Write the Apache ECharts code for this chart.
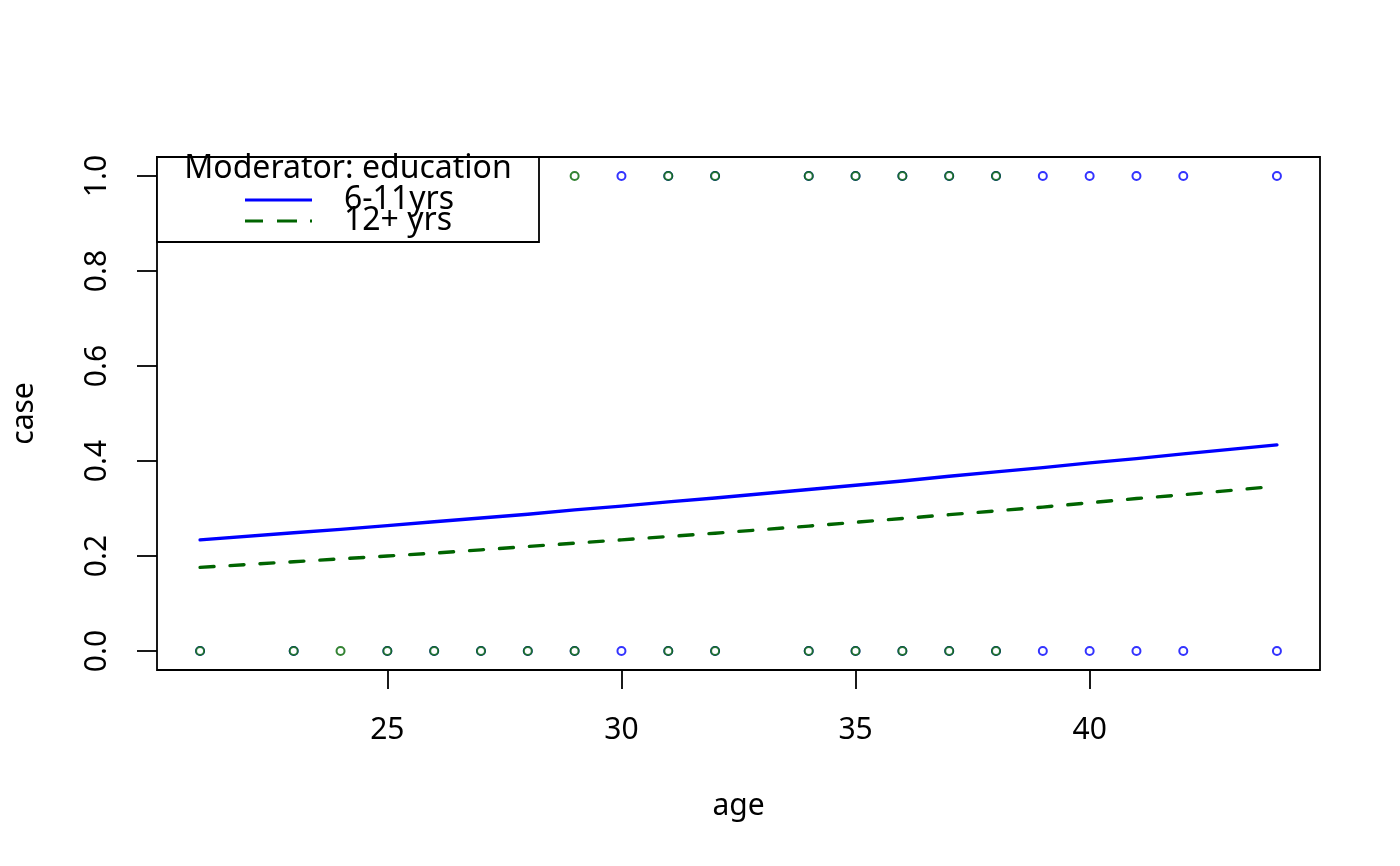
<!DOCTYPE html>
<html>
<head>
<meta charset="utf-8">
<script src="https://cdn.jsdelivr.net/npm/echarts@6/dist/echarts.min.js"></script>
<style>html,body{margin:0;padding:0;background:#fff;}#chart{width:1400px;height:866px;}</style>
</head>
<body>
<div id="chart"></div>
<script>
// Fitted probability lines
var lineAges = [21, 23, 24, 25, 26, 27, 28, 29, 30, 31, 32, 34, 35, 36, 37, 38, 39, 40, 41, 42, 44];
var fitLow = [0.234, 0.249, 0.256, 0.264, 0.272, 0.280, 0.288, 0.297, 0.305, 0.314, 0.322, 0.340, 0.349, 0.358, 0.368, 0.377, 0.386, 0.396, 0.405, 0.415, 0.434];
var fitHigh = [0.176, 0.188, 0.194, 0.200, 0.206, 0.213, 0.220, 0.227, 0.234, 0.241, 0.248, 0.263, 0.271, 0.279, 0.287, 0.295, 0.303, 0.312, 0.321, 0.329, 0.347];

// Observed cases (case = 0 / 1) by education group
var lowAgesCase0 = [21, 23, 25, 26, 27, 28, 29, 30, 31, 32, 34, 35, 36, 37, 38, 39, 40, 41, 42, 44];
var lowAgesCase1 = [30, 31, 32, 34, 35, 36, 37, 38, 39, 40, 41, 42, 44];
var highAgesCase0 = [21, 23, 24, 25, 26, 27, 28, 29, 31, 32, 34, 35, 36, 37, 38];
var highAgesCase1 = [29, 31, 32, 34, 35, 36, 37, 38];

var xTicks = [25, 30, 35, 40];
var yTicks = [0, 0.2, 0.4, 0.6, 0.8, 1.0];
var groupNames = ['6-11yrs', '12+ yrs'];
var legendTitle = 'Moderator: education';

var FONT = 'Noto Sans';
var BLUE = '#0000ff';
var GREEN = '#006400';

function pts(ages, c) { return ages.map(function (a) { return [a, c]; }); }
function pairs(xs, ys) { return xs.map(function (x, i) { return [x, ys[i]]; }); }

var chart = echarts.init(document.getElementById('chart'), null, { renderer: 'canvas' });

var scatterCommon = {
  type: 'scatter',
  symbol: 'emptyCircle',
  symbolSize: 8,
  silent: true
};

chart.setOption({
  animation: false,
  backgroundColor: '#ffffff',
  textStyle: { fontFamily: FONT },
  grid: {
    left: 157, top: 157, right: 80, bottom: 196,
    show: true, borderColor: '#000', borderWidth: 1.8, backgroundColor: 'transparent'
  },
  xAxis: {
    type: 'value', min: 20.08, max: 44.92,
    name: 'age', nameLocation: 'middle', nameGap: 121,
    nameTextStyle: { fontFamily: FONT, fontSize: 30, color: '#000' },
    axisLine: { show: false, onZero: false },
    axisTick: { show: true, inside: false, length: 19, customValues: xTicks, lineStyle: { color: '#000', width: 1.8 } },
    axisLabel: { customValues: xTicks, margin: 45, fontFamily: FONT, fontSize: 30, color: '#000' },
    splitLine: { show: false }
  },
  yAxis: {
    type: 'value', min: -0.04, max: 1.04,
    name: 'case', nameLocation: 'middle', nameGap: 118, nameRotate: 90,
    nameTextStyle: { fontFamily: FONT, fontSize: 30, color: '#000' },
    axisLine: { show: false, onZero: false },
    axisTick: { show: true, inside: false, length: 20, customValues: yTicks, lineStyle: { color: '#000', width: 1.8 } },
    axisLabel: { customValues: yTicks, rotate: 90, margin: 45, fontFamily: FONT, fontSize: 30, color: '#000',
      formatter: function (v) { return v.toFixed(1); } },
    splitLine: { show: false }
  },
  legend: {
    left: 245, top: 184, orient: 'vertical', padding: 0, itemGap: -11, z: 10,
    itemWidth: 67, itemHeight: 3, selectedMode: false,
    itemStyle: { borderWidth: 0 },
    textStyle: { fontFamily: FONT, fontSize: 32, color: '#000', lineHeight: 32, padding: [0, 0, 0, 27] },
    data: [
      { name: groupNames[0], icon: 'path://M0,0h67v3h-67z', itemStyle: { color: BLUE, borderWidth: 0 } },
      { name: groupNames[1], icon: 'path://M0,0h18v3h-18z M32,0h20v3h-20z M65,0h2v3h-2z', itemStyle: { color: GREEN, borderWidth: 0 } }
    ]
  },
  graphic: [
    { type: 'rect', z: 1, shape: { x: 157, y: 157, width: 382, height: 85 },
      style: { fill: '#fff', stroke: '#000', lineWidth: 1.8 } },
    { type: 'text', z: 11, x: 348, y: 169,
      style: { text: legendTitle, fontFamily: FONT, fontSize: 32, fill: '#000', align: 'center', verticalAlign: 'middle' } }
  ],
  series: [
    Object.assign({}, scatterCommon, { name: 'low0', data: pts(lowAgesCase0, 0), itemStyle: { color: BLUE, borderColor: BLUE, borderWidth: 1.8 }, z: 2 }),
    Object.assign({}, scatterCommon, { name: 'low1', data: pts(lowAgesCase1, 1), itemStyle: { color: BLUE, borderColor: BLUE, borderWidth: 1.8 }, z: 2 }),
    Object.assign({}, scatterCommon, { name: 'high0', data: pts(highAgesCase0, 0), itemStyle: { color: GREEN, borderColor: GREEN, borderWidth: 1.8 }, z: 3 }),
    Object.assign({}, scatterCommon, { name: 'high1', data: pts(highAgesCase1, 1), itemStyle: { color: GREEN, borderColor: GREEN, borderWidth: 1.8 }, z: 3 }),
    { name: groupNames[0], type: 'line', data: pairs(lineAges, fitLow), showSymbol: false, symbol: 'none', silent: true, z: 4,
      itemStyle: { color: BLUE }, lineStyle: { color: BLUE, width: 3.4, cap: 'round', join: 'round' } },
    { name: groupNames[1], type: 'line', data: pairs(lineAges, fitHigh), showSymbol: false, symbol: 'none', silent: true, z: 4,
      itemStyle: { color: GREEN }, lineStyle: { color: GREEN, width: 3.4, type: [14, 16], cap: 'round', join: 'round' } }
  ]
});
</script>
</body>
</html>
